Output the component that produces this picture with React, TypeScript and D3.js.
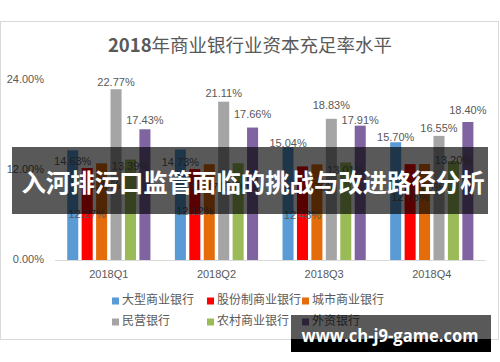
import React from 'react';
import * as d3 from 'd3';

// quarters and bank types
const quarters = ['2018Q1', '2018Q2', '2018Q3', '2018Q4'];
const bankTypes = ['大型商业银行', '股份制商业银行', '城市商业银行', '民营银行', '农村商业银行', '外资银行'];

// capital adequacy ratio (%) per bank type, one value per quarter
const large = [14.63, 14.73, 15.04, 15.70];
const jointStock = [12.27, 12.12, 12.48, 12.78];
const cityBanks = [12.89, 12.77, 12.75, 12.80];
const privateBanks = [22.77, 21.11, 18.83, 16.55];
const ruralBanks = [13.39, 12.90, 13.01, 13.20];
const foreignBanks = [17.43, 17.66, 17.91, 18.40];

const yTicks = [0, 12, 24];

const seriesValues = [large, jointStock, cityBanks, privateBanks, ruralBanks, foreignBanks];
const colours = ['#5b9bd5', '#ff0000', '#e46c0a', '#a5a5a5', '#9bbb59', '#8064a2'];

// where the source chart put its value labels, px from the top of each bar (per quarter)
const labelDy = [
    [12, 14, -3, -4],
    [47, 43, 50, 34],
    [23, 24, 24, 24],
    [-6, -8, -13, -7],
    [8, 24, 9, 0],
    [-8, -12, -5, -11],
];

const W = 500;
const H = 362;
const grey = '#595959';
const sans = '"Liberation Sans", Arial, sans-serif';
const cjk = '"Noto Sans CJK SC", sans-serif';

export default function App() {
    const x0 = d3.scaleBand<string>().domain(quarters).range([55, 485.6]).paddingInner(0.227).paddingOuter(0.1135);
    const x1 = d3.scaleBand<number>().domain(d3.range(bankTypes.length)).range([0, x0.bandwidth()]).paddingInner(0.236);
    const y = d3.scaleLinear().domain([0, 24]).range([260, 80]);
    const pct = d3.format('.2f');

    return (
        <svg width={W} height={H} style={{ position: 'absolute', left: 0, top: 0, background: '#fff' }}>
            <rect x={0.5} y={21.5} width={498} height={318} fill="#fff" stroke="#d9d9d9" />

            <text x={250} y={47} textAnchor="middle" dominantBaseline="middle" fill={grey} fontSize={18.5} fontFamily={cjk}>
                <tspan fontWeight="bold">2018</tspan>年商业银行业资本充足率水平
            </text>

            {yTicks.map(t => (
                <text key={t} x={44} y={y(t)} textAnchor="end" dominantBaseline="middle" fill={grey} fontSize={11} fontFamily={sans}>
                    {pct(t)}%
                </text>
            ))}

            {quarters.map((q, qi) => (
                <g key={q} transform={`translate(${x0(q)},0)`}>
                    {seriesValues.map((vals, si) => (
                        <rect key={si} x={x1(si)} y={y(vals[qi])} width={x1.bandwidth()} height={y(0) - y(vals[qi])} fill={colours[si]} />
                    ))}
                    {seriesValues.map((vals, si) => (
                        <text key={'l' + si} x={(x1(si) as number) + x1.bandwidth() / 2} y={y(vals[qi]) + labelDy[si][qi]}
                            textAnchor="middle" dominantBaseline="middle" fill={grey} fontSize={11} fontFamily={sans}>
                            {pct(vals[qi])}%
                        </text>
                    ))}
                    <text x={x0.bandwidth() / 2} y={275} textAnchor="middle" dominantBaseline="middle" fill={grey} fontSize={11} fontFamily={sans}>
                        {q}
                    </text>
                </g>
            ))}

            <line x1={55} x2={485.6} y1={y(0) + 0.5} y2={y(0) + 0.5} stroke="#d9d9d9" />

            {bankTypes.map((b, i) => {
                const lx = 112 + (i % 3) * 95;
                const ly = i < 3 ? 301 : 322;
                return (
                    <g key={b}>
                        <rect x={lx} y={ly - 3.5} width={7} height={7} fill={colours[i]} />
                        <text x={lx + 10} y={ly} dominantBaseline="middle" fill={grey} fontSize={12} fontFamily={cjk}>{b}</text>
                    </g>
                );
            })}

            {/* overlay banner */}
            <rect x={12} y={147} width={476} height={67} fill="#000" fillOpacity={0.65} />
            <text x={253} y={185} textAnchor="middle" dominantBaseline="middle" fill="#fff" fontSize={24.5} fontWeight="bold"
                fontFamily={cjk} textLength={463} lengthAdjust="spacingAndGlyphs">
                入河排污口监管面临的挑战与改进路径分析
            </text>

            {/* watermark */}
            <rect x={291} y={315} width={200} height={24} fill="#000" fillOpacity={0.65} />
            <rect x={291} y={339} width={200} height={13} fill="#000" />
            <text x={390} y={337} textAnchor="middle" dominantBaseline="middle" fill="#fff" fontSize={18} fontWeight="bold"
                fontFamily='"Open Sans", sans-serif' textLength={177} lengthAdjust="spacingAndGlyphs">
                www.ch-j9-game.com
            </text>
        </svg>
    );
}
